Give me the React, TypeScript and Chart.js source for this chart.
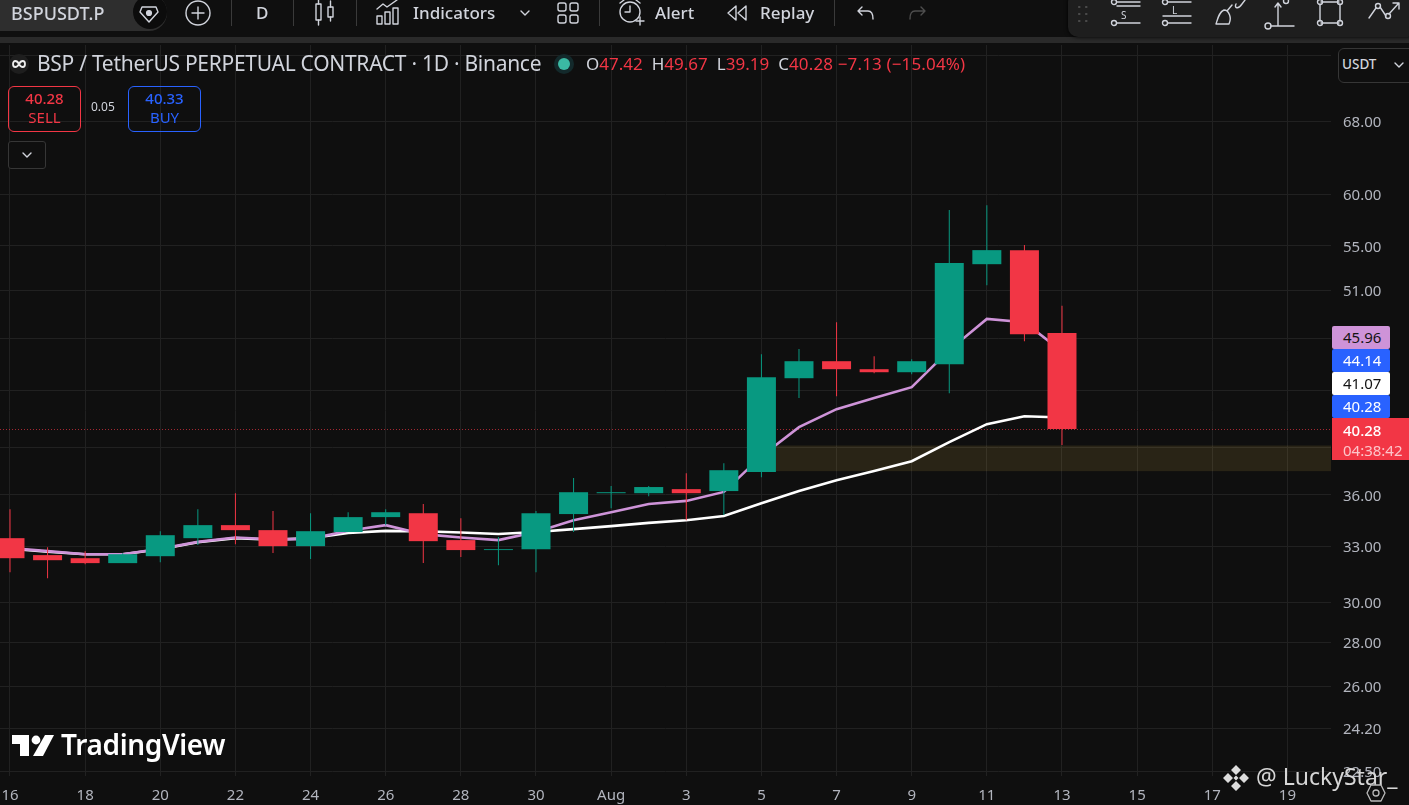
import React, { useEffect, useRef } from "react";
import { Chart, registerables } from "chart.js";

Chart.register(...registerables);

// ---- data -------------------------------------------------------------
const dayLabels = ["16","17","18","19","20","21","22","23","24","25","26","27","28","29","30","31","Aug","2","3","4","5","6","7","8","9","10","11","12","13","14","15","16","17","18","19"];
const opens  = [33.45,32.50,32.33,32.06,32.44,33.45,34.20,33.91,33.00,33.80,34.67,34.90,33.34,32.78,32.83,34.85,36.11,36.11,36.36,36.24,37.43,43.91,45.20,44.59,44.36,44.97,53.31,54.60,47.42];
const highs  = [35.14,32.94,32.72,32.60,33.85,35.14,36.11,35.03,34.90,34.96,35.14,35.45,34.61,33.51,35.03,37.05,36.55,36.55,37.36,38.00,45.74,46.14,48.30,45.59,45.35,58.45,58.94,55.07,49.67];
const lows   = [31.57,31.25,32.00,32.06,32.11,33.06,33.11,32.61,32.28,33.80,34.20,32.06,32.39,31.95,31.57,33.80,35.20,35.93,34.49,34.79,37.11,42.45,42.59,44.29,44.21,42.81,51.44,46.76,39.19];
const closes = [32.33,32.22,32.06,32.55,33.62,34.20,33.91,33.00,33.85,34.67,34.96,33.28,32.78,32.83,34.90,36.17,36.17,36.49,36.11,37.55,43.99,45.20,44.59,44.36,45.20,53.41,54.60,47.33,40.28];
const maFast = [32.89,32.72,32.55,32.55,32.85,33.24,33.49,33.38,33.41,33.87,34.20,33.68,33.49,33.34,33.80,34.49,34.96,35.45,35.64,36.19,38.46,40.40,41.66,42.45,43.25,46.06,48.57,48.30,45.96];
const maSlow = [32.86,32.69,32.55,32.55,32.83,33.22,33.45,33.36,33.45,33.75,33.87,33.85,33.77,33.69,33.80,33.97,34.14,34.33,34.49,34.73,35.50,36.24,36.92,37.50,38.13,39.39,40.61,41.16,41.07];
const yGridValues = [76,68,60,55,51,47,43,39,36,33,30,28,26,24.2,22.5];
const yHiddenLabels = [76,47,43,39];
const zoneRange = [37.49,39.16];
const zoneStartDay = 20;
const lastClose = 40.28;
const badges = [
  { text: "45.96", bg: "#ce93d8", fg: "#131313" },
  { text: "44.14", bg: "#2962ff", fg: "#ffffff" },
  { text: "41.07", bg: "#ffffff", fg: "#131313" },
  { text: "40.28", bg: "#2962ff", fg: "#ffffff" },
];

const UP = "#089981";
const DOWN = "#f23645";
const BG = "#0f0f0f";
const GRID = "#212121";
const TXT = "#d1d4dc";
const FONT = '"Noto Sans", sans-serif';

const levelPlugin = {
  id: "levels",
  beforeDatasetsDraw(chart: any) {
    const { ctx, chartArea: a, scales: { x, y } } = chart;
    ctx.save();
    ctx.fillStyle = "rgba(255,205,85,0.11)";
    const top = y.getPixelForValue(zoneRange[1]);
    const bot = y.getPixelForValue(zoneRange[0]);
    const left = x.getPixelForValue(zoneStartDay);
    ctx.fillRect(left, top, a.right - left, bot - top);
    ctx.strokeStyle = "rgba(242,54,69,0.65)";
    ctx.lineWidth = 1;
    ctx.setLineDash([1, 2]);
    const p = Math.round(y.getPixelForValue(lastClose)) + 0.5;
    ctx.beginPath();
    ctx.moveTo(a.left, p);
    ctx.lineTo(a.right, p);
    ctx.stroke();
    ctx.restore();
  },
};

function pos(x: number, y: number, w?: number, h?: number): React.CSSProperties {
  return { position: "absolute", left: x, top: y, width: w, height: h };
}

function Icon({ x, y, w, h, children, sw = 1.4, color = TXT }: any) {
  return (
    <svg style={pos(x, y, w, h)} width={w} height={h} viewBox={`0 0 ${w} ${h}`} fill="none" stroke={color} strokeWidth={sw} strokeLinecap="round" strokeLinejoin="round">
      {children}
    </svg>
  );
}

function Label({ x, y, size, color = TXT, weight = 400, spacing = 0, children }: any) {
  return (
    <div style={{ position: "absolute", left: x, top: y, fontSize: size, lineHeight: `${size + 4}px`, color, fontWeight: weight, letterSpacing: spacing, whiteSpace: "nowrap" }}>
      {children}
    </div>
  );
}

function Sep({ x }: { x: number }) {
  return <div style={{ ...pos(x, 0, 1, 26), background: "#3a3a3a" }} />;
}

function Toolbar() {
  return (
    <>
      <div style={{ ...pos(0, 37, 1409, 6), background: "#2a2a2a" }} />
      <div style={{ ...pos(0, -6, 167, 37), background: "#2e2e2e", borderRadius: "0 18px 18px 0" }} />
      <div style={{ ...pos(133, -5, 34, 34), background: "#0c0c0c", borderRadius: "50%" }} />
      <Label x={11} y={2} size={18} weight={500}>BSPUSDT.P</Label>
      <Icon x={137} y={2} w={24} h={24}>
        <path d="M5 5 L19 5 L21 10 L12 20 L3 10 Z" />
        <circle cx="12" cy="11" r="2.4" fill={TXT} />
      </Icon>
      <Icon x={184} y={0} w={28} h={28}>
        <circle cx="14" cy="13" r="12" />
        <path d="M14 7 V19 M8 13 H20" />
      </Icon>
      <Sep x={231} />
      <Label x={256} y={2} size={17} weight={500}>D</Label>
      <Sep x={293} />
      <Icon x={314} y={0} w={22} h={26}>
        <rect x="2" y="4" width="5" height="16" />
        <path d="M4.5 0 V4 M4.5 20 V25" />
        <rect x="14" y="7" width="5" height="10" />
        <path d="M16.5 1 V7 M16.5 17 V21" />
      </Icon>
      <Sep x={356} />
      <Icon x={376} y={0} w={24} h={26}>
        <path d="M1 9 L7 4 L11 7 L21 0" />
        <rect x="1" y="16" width="5" height="8" />
        <rect x="9" y="12" width="5" height="12" />
        <rect x="17" y="8" width="5" height="16" />
      </Icon>
      <Label x={413} y={2} size={17} weight={500}>Indicators</Label>
      <Icon x={519} y={8} w={12} h={10}><path d="M2 3 L6 7 L10 3" /></Icon>
      <Icon x={556} y={1} w={24} h={24}>
        <rect x="2" y="2" width="8" height="8" rx="2" />
        <rect x="14" y="2" width="8" height="8" rx="2" />
        <rect x="2" y="14" width="8" height="8" rx="2" />
        <rect x="14" y="14" width="8" height="8" rx="2" />
      </Icon>
      <Sep x={599} />
      <Icon x={617} y={0} w={28} h={26}>
        <circle cx="13" cy="12" r="10" />
        <path d="M13 6 V12 H8 M3 3 L7 0 M23 3 L19 0 M19 21 H27 M23 17 V25" />
      </Icon>
      <Label x={655} y={2} size={17} weight={500}>Alert</Label>
      <Icon x={726} y={4} w={22} h={18}>
        <path d="M10 2 L2 9 L10 16 Z M20 2 L12 9 L20 16 Z" />
      </Icon>
      <Label x={760} y={2} size={17} weight={500}>Replay</Label>
      <Sep x={834} />
      <Icon x={856} y={5} w={20} h={16}><path d="M6 2 L2 6 L6 10 M2 6 H12 C16 6 17 9 17 14" /></Icon>
      <Icon x={907} y={5} w={20} h={16} color="#4e4e4e"><path d="M14 2 L18 6 L14 10 M18 6 H8 C4 6 3 9 3 14" /></Icon>

      <div style={{ ...pos(1068, -8, 350, 45), background: "#1e1e1e", borderRadius: 10, boxShadow: "0 0 4px #000" }} />
      <Icon x={1076} y={4} w={14} h={20} color="#4b4b4b" sw={2.2}>
        <path d="M3 3 H3.5 M10 3 H10.5 M3 10 H3.5 M10 10 H10.5 M3 17 H3.5 M10 17 H10.5" />
      </Icon>
      <Icon x={1110} y={0} w={32} h={28}>
        <circle cx="4" cy="2" r="2.5" /><path d="M7 2 H30 M7 6 H30" />
        <circle cx="4" cy="23" r="2.5" /><path d="M7 23 H30" />
      </Icon>
      <Label x={1121} y={8} size={10}>S</Label>
      <Icon x={1161} y={0} w={32} h={28}>
        <circle cx="4" cy="2" r="2.5" /><path d="M7 2 H30 M2 16 H30" />
        <circle cx="4" cy="23" r="2.5" /><path d="M7 23 H30" />
      </Icon>
      <Label x={1172} y={3} size={10}>L</Label>
      <Icon x={1214} y={0} w={34} h={26}>
        <path d="M2 24 H15 C18 18 15 10 10 10 C5 12 4 18 2 24 Z M13 11 L18 5 M22 4 C20 8 24 10 28 4 L31 0" />
      </Icon>
      <Icon x={1264} y={0} w={32} h={30}>
        <circle cx="4" cy="26" r="3" /><path d="M7 26 H30 M14 26 V4 M11 7 L14 3 L17 7" />
        <circle cx="22" cy="1" r="2.5" />
      </Icon>
      <Icon x={1316} y={0} w={28} h={28}>
        <path d="M5 2 H23 M5 23 H23 M4 4 V21 M24 4 V21" />
        <circle cx="4" cy="2" r="2.5" /><circle cx="24" cy="2" r="2.5" />
        <circle cx="4" cy="23" r="2.5" /><circle cx="24" cy="23" r="2.5" />
      </Icon>
      <Icon x={1368} y={0} w={34} h={24}>
        <path d="M1 18 L8 8 M12 7 L18 16 M21 14 L30 4 M25 3 H31 V9" />
        <circle cx="10" cy="6" r="2.5" /><circle cx="20" cy="16" r="2.5" />
      </Icon>
    </>
  );
}

function Legend() {
  return (
    <>
      <div style={{ ...pos(9, 54, 20, 20), background: "#1e1e1e", borderRadius: "50%" }} />
      <Icon x={12} y={59} w={14} h={10} sw={1.8} color="#eeeeee">
        <path d="M7 5 C5 1 1 1 1 5 C1 9 5 9 7 5 C9 1 13 1 13 5 C13 9 9 9 7 5 Z" />
      </Icon>
      <Label x={37} y={51} size={21} spacing={-0.28}>BSP / TetherUS PERPETUAL CONTRACT · 1D · Binance</Label>
      <div style={{ ...pos(554, 54, 20, 20), background: "#13292b", borderRadius: "50%" }} />
      <div style={{ ...pos(558, 58, 12, 12), background: "#3bb9a3", borderRadius: "50%" }} />
      <Label x={586} y={53} size={17}>
        O<span style={{ color: DOWN }}>47.42</span>
        <span style={{ marginLeft: 9 }}>H</span><span style={{ color: DOWN }}>49.67</span>
        <span style={{ marginLeft: 9 }}>L</span><span style={{ color: DOWN }}>39.19</span>
        <span style={{ marginLeft: 9 }}>C</span><span style={{ color: DOWN, letterSpacing: 0.15 }}>40.28 −7.13 (−15.04%)</span>
      </Label>

      <div style={{ ...pos(8, 86, 73, 46), border: `1px solid ${DOWN}`, borderRadius: 6, boxSizing: "border-box", textAlign: "center", color: DOWN, fontSize: 15, lineHeight: "19px", paddingTop: 2 }}>
        <div style={{ fontWeight: 500 }}>40.28</div><div>SELL</div>
      </div>
      <Label x={91} y={99} size={12}>0.05</Label>
      <div style={{ ...pos(128, 86, 73, 46), border: "1px solid #2962ff", borderRadius: 6, boxSizing: "border-box", textAlign: "center", color: "#2962ff", fontSize: 15, lineHeight: "19px", paddingTop: 2 }}>
        <div style={{ fontWeight: 500 }}>40.33</div><div>BUY</div>
      </div>
      <div style={{ ...pos(8, 141, 38, 28), border: "1px solid #363636", borderRadius: 3, boxSizing: "border-box", background: BG }} />
      <Icon x={21} y={150} w={12} h={10}><path d="M2 3 L6 7 L10 3" /></Icon>

      <div style={{ ...pos(1338, 48, 90, 35), border: "1px solid #363636", borderRadius: 6, boxSizing: "border-box", background: BG }} />
      <Label x={1342} y={56} size={13.5} weight={500}>USDT</Label>
      <Icon x={1393} y={60} w={12} h={10}><path d="M2 3 L6 7 L10 3" /></Icon>
    </>
  );
}

function Badges() {
  return (
    <>
      {badges.map((b, i) => (
        <div key={i} style={{ ...pos(1332, 326 + i * 23, 58, 23), background: b.bg, color: b.fg, borderRadius: 2, fontSize: 15, lineHeight: "23px", paddingLeft: 11, boxSizing: "border-box" }}>
          {b.text}
        </div>
      ))}
      <div style={{ ...pos(1332, 418, 77, 42), background: DOWN, color: "#fff", fontSize: 15, lineHeight: "20px", paddingLeft: 11, paddingTop: 2, boxSizing: "border-box" }}>
        <div style={{ fontWeight: 500 }}>40.28</div>
        <div style={{ color: "#fcc5ca" }}>04:38:42</div>
      </div>
    </>
  );
}

function Watermarks() {
  return (
    <>
      <Icon x={12} y={735} w={42} h={22} color="#ffffff" sw={0}>
        <path d="M0 0 H17 V21 H8 V9 H0 Z" fill="#fff" />
        <circle cx="24" cy="5" r="4.4" fill="#fff" />
        <path d="M33 0 H42 L31 21 H21 Z" fill="#fff" />
      </Icon>
      <Label x={61} y={728} size={28} weight={600} color="#ffffff" spacing={-0.35}>TradingView</Label>
      <Icon x={1222} y={764} w={28} h={28} color="#dddddd" sw={0}>
        <path d="M14 1 L19 6 L14 11 L9 6 Z M14 17 L19 22 L14 27 L9 22 Z M1 14 L6 9 L11 14 L6 19 Z M17 14 L22 9 L27 14 L22 19 Z" fill="#dddddd" />
        <path d="M14 11.5 L16.5 14 L14 16.5 L11.5 14 Z" fill="#dddddd" />
      </Icon>
      <Label x={1256} y={763} size={23} color="#d6d6d6">@ LuckyStar_</Label>
      <Icon x={1366} y={783} w={20} h={20} color="#bbbbbb" sw={1.3}>
        <path d="M5 2 H15 L19 10 L15 18 H5 L1 10 Z" />
        <circle cx="10" cy="10" r="3" />
      </Icon>
    </>
  );
}

export default function App() {
  const ref = useRef<HTMLCanvasElement>(null);
  useEffect(() => {
    const idx = opens.map((_, i) => i);
    const colors = idx.map((i) => (closes[i] >= opens[i] ? UP : DOWN));
    const chart = new Chart(ref.current!, {
      type: "bar",
      data: {
        datasets: [
          {
            type: "bar",
            label: "Body",
            data: idx.map((i) => ({ x: i, y: [opens[i], closes[i]] })) as any,
            backgroundColor: colors,
            barThickness: 29,
            grouped: false,
            order: 1,
            inflateAmount: 0,
          } as any,
          {
            type: "bar",
            label: "Wick",
            data: idx.map((i) => ({ x: i, y: [lows[i], highs[i]] })) as any,
            backgroundColor: colors,
            barThickness: 1,
            grouped: false,
            order: 2,
            inflateAmount: 0,
          } as any,
          {
            type: "line",
            label: "EMA fast",
            data: idx.map((i) => ({ x: i, y: maFast[i] })),
            borderColor: "#ce93d8",
            borderWidth: 2.6,
            pointRadius: 0,
            tension: 0,
            order: 3,
          },
          {
            type: "line",
            label: "EMA slow",
            data: idx.map((i) => ({ x: i, y: maSlow[i] })),
            borderColor: "#ffffff",
            borderWidth: 2.6,
            pointRadius: 0,
            tension: 0,
            order: 4,
          },
        ],
      },
      options: {
        responsive: false,
        animation: false,
        layout: { padding: { top: 45, left: 0, right: 0, bottom: 0 } },
        plugins: { legend: { display: false }, tooltip: { enabled: false } },
        scales: {
          x: {
            type: "linear",
            offset: false,
            min: -0.266,
            max: 35.16,
            grid: { color: GRID, drawTicks: false, lineWidth: 1, offset: false },
            border: { display: false },
            ticks: {
              padding: 11,
              maxRotation: 0,
              autoSkip: false,
              color: "#b2b5be",
              font: { family: FONT, size: 15 },
              callback: (v: any) => dayLabels[v] ?? "",
            },
            afterBuildTicks: (s: any) => {
              s.ticks = dayLabels.map((_, i) => i).filter((i) => i % 2 === 0).map((value) => ({ value }));
            },
            afterFit: (s: any) => {
              s.height = 29;
              s.paddingLeft = 0;
              s.paddingRight = 0;
            },
          },
          y: {
            type: "logarithmic",
            position: "right",
            min: 22.32,
            max: 77.4,
            grid: { color: GRID, drawTicks: false, lineWidth: 1 },
            border: { display: false },
            ticks: {
              padding: 12,
              autoSkip: false,
              labelOffset: 1.5,
              color: "#b2b5be",
              font: { family: FONT, size: 15 },
              callback: (v: any) => (yHiddenLabels.includes(Number(v)) ? "" : Number(v).toFixed(2)),
            },
            afterBuildTicks: (s: any) => {
              s.ticks = yGridValues.map((value) => ({ value }));
            },
            afterFit: (s: any) => {
              s.width = 78;
              s.paddingTop = 0;
              s.paddingBottom = 0;
            },
          },
        },
      } as any,
      plugins: [levelPlugin],
    });
    return () => chart.destroy();
  }, []);

  return (
    <div style={{ position: "fixed", left: 0, top: 0, width: 1409, height: 805, overflow: "hidden", background: BG, fontFamily: FONT }}>
      <canvas ref={ref} width={1409} height={805} style={{ display: "block", width: 1409, height: 805 }} />
      <Toolbar />
      <Legend />
      <Badges />
      <Watermarks />
    </div>
  );
}
